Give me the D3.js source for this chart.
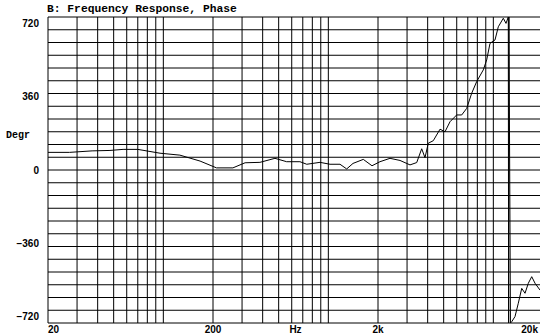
<!DOCTYPE html>
<html>
<head>
<meta charset="utf-8">
<script src="https://cdn.jsdelivr.net/npm/d3@7"></script>
<style>
  body { margin: 0; background: #fff; }
  svg { display: block; }
</style>
</head>
<body>
<svg id="chart"></svg>
<script>
// phase curve (Hz, degrees); it wraps round near 12.4 kHz
let freqs = [20, 27, 37, 47.5, 57, 70, 95.5, 126, 167, 210, 264, 313, 385, 475, 559, 673, 740, 890,
    1024, 1177, 1292, 1411, 1629, 1839, 2056, 2364, 2719, 3126, 3433, 3680, 3853, 4035, 4327, 4752,
    5094, 5462, 5996, 6431, 6895, 7393, 7927, 8693, 9114, 9547, 10237, 10720, 11494, 11934, 12323,
    12380, 12430, 12700, 12922, 13531, 14169, 14862, 15562, 16296, 17088, 17894, 19187];
let phase = [83, 83, 90, 92, 97, 97, 79, 70, 42, 10, 10, 34, 36, 55, 39, 39, 27, 36,
    27, 27, 5, 31, 50, 20, 39, 55, 45, 24, 35, 100, 58, 126, 138, 192,
    180, 227, 259, 259, 290, 361, 416, 471, 518, 596, 612, 674, 714, 690, 720,
    -720, 720, -720, -714, -690, -627, -557, -580, -533, -502, -533, -565];

let yTicks = [720, 360, 0, -360, -720];
let xTicks = [20, 200, 2000, 20000];
let xTickLabels = ["20", "200", "2k", "20k"];

function drawChart() {
    let w = 540, h = 336;
    let left = 48, right = 543, top = 17, bottom = 323;

    let svg = d3.select("#chart")
        .attr("width", w)
        .attr("height", h);

    let x = d3.scaleLog().domain([20, 20000]).range([left, right]);
    let y = d3.scaleLinear().domain([-720, 720]).range([bottom, top]);
    // the old plotter puts its degree labels a bit inside the frame
    let yLab = d3.scaleLinear().domain([-720, 720]).range([320, 27]);

    // grid
    let vLines = [];
    [10, 100, 1000, 10000].forEach(dec => {
        for (let k = 1; k <= 9; k++) {
            let f = dec * k;
            if (f >= 20 && f <= 20000) vLines.push(f);
        }
    });
    vLines.push(20000);

    svg.append("g")
        .selectAll("line")
        .data(d3.range(-720, 721, 60))
        .enter()
        .append("line")
        .attr("x1", left).attr("x2", w)
        .attr("y1", d => y(d)).attr("y2", d => y(d))
        .attr("stroke", "#000")
        .attr("stroke-width", 1);

    svg.append("g")
        .selectAll("line")
        .data(vLines)
        .enter()
        .append("line")
        .attr("x1", d => x(d)).attr("x2", d => x(d))
        .attr("y1", top).attr("y2", bottom)
        .attr("stroke", "#000")
        .attr("stroke-width", 1);

    // curve
    let pts = freqs.map((f, i) => [f, phase[i]]);
    let line = d3.line()
        .x(d => x(d[0]))
        .y(d => y(d[1]));

    svg.append("path")
        .datum(pts)
        .attr("fill", "none")
        .attr("stroke", "#000")
        .attr("stroke-width", 1)
        .attr("d", line);

    // texts
    svg.append("text")
        .attr("x", 47).attr("y", 12)
        .attr("font-family", "Liberation Mono")
        .attr("font-weight", "bold")
        .attr("font-size", 11.3)
        .text("B: Frequency Response, Phase");

    svg.append("text")
        .attr("x", 6).attr("y", 138)
        .attr("font-family", "Liberation Mono")
        .attr("font-weight", "bold")
        .attr("font-size", 10)
        .text("Degr");

    svg.append("g")
        .selectAll("text")
        .data(yTicks)
        .enter()
        .append("text")
        .attr("x", 39)
        .attr("y", d => yLab(d))
        .attr("text-anchor", "end")
        .attr("font-family", "Liberation Sans")
        .attr("font-weight", "bold")
        .attr("font-size", 10)
        .text(d => d === 0 ? "0" : d3.format("d")(d).replace("-", "\u2212"));

    // last label sits against the window edge
    svg.append("g")
        .selectAll("text")
        .data(xTicks)
        .enter()
        .append("text")
        .attr("x", (d, i) => i === xTicks.length - 1 ? w - 2 : x(d))
        .attr("y", 333)
        .attr("text-anchor", (d, i) => i === 0 ? "start" : (i === xTicks.length - 1 ? "end" : "middle"))
        .attr("font-family", "Liberation Sans")
        .attr("font-weight", "bold")
        .attr("font-size", 10)
        .text((d, i) => xTickLabels[i]);

    svg.append("text")
        .attr("x", x(Math.sqrt(200 * 2000)))
        .attr("y", 333)
        .attr("text-anchor", "middle")
        .attr("font-family", "Liberation Sans")
        .attr("font-weight", "bold")
        .attr("font-size", 10)
        .text("Hz");
}

window.onload = function() {
    drawChart();
}
</script>
</body>
</html>
